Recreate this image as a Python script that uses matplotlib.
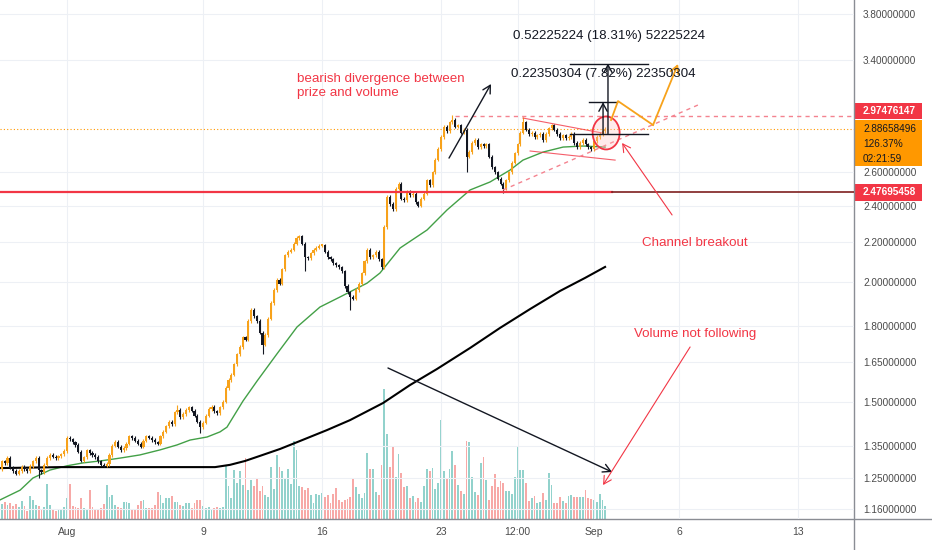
import numpy as np
import matplotlib
matplotlib.use("Agg")
import matplotlib.pyplot as plt
from matplotlib import transforms
from matplotlib.patches import Rectangle, Ellipse
from matplotlib.lines import Line2D
from matplotlib.ticker import FixedLocator, NullLocator, FixedFormatter

# ---------------- data ----------------
first_open = 1.275
closes = [
    1.300, 1.295, 1.310, 1.280, 1.270, 1.262, 1.270, 1.282, 1.275, 1.270,
    1.285, 1.300, 1.310, 1.272, 1.266, 1.290, 1.310, 1.320, 1.315, 1.310,
    1.316, 1.322, 1.332, 1.375, 1.370, 1.360, 1.352, 1.330, 1.302, 1.312,
    1.335, 1.326, 1.320, 1.314, 1.300, 1.290, 1.286, 1.292, 1.320, 1.350,
    1.362, 1.346, 1.336, 1.342, 1.356, 1.380, 1.375, 1.366, 1.356, 1.346,
    1.366, 1.380, 1.376, 1.368, 1.360, 1.356, 1.380, 1.396, 1.414, 1.430,
    1.420, 1.462, 1.470, 1.446, 1.456, 1.470, 1.480, 1.468, 1.450, 1.430,
    1.412, 1.426, 1.450, 1.474, 1.482, 1.466, 1.460, 1.480, 1.500, 1.550,
    1.580, 1.600, 1.640, 1.680, 1.710, 1.750, 1.740, 1.820, 1.870, 1.840,
    1.820, 1.770, 1.720, 1.760, 1.830, 1.900, 1.960, 2.010, 1.990, 2.060,
    2.130, 2.150, 2.160, 2.190, 2.220, 2.230, 2.190, 2.120, 2.115, 2.140,
    2.160, 2.170, 2.180, 2.182, 2.150, 2.120, 2.110, 2.090, 2.080, 2.070,
    2.050, 1.980, 1.950, 1.930, 1.920, 1.960, 1.990, 2.040, 2.100, 2.160,
    2.120, 2.130, 2.150, 2.110, 2.070, 2.280, 2.450, 2.410, 2.380, 2.500,
    2.530, 2.440, 2.430, 2.480, 2.460, 2.470, 2.420, 2.400, 2.440, 2.470,
    2.550, 2.520, 2.600, 2.680, 2.750, 2.830, 2.900, 2.870, 2.930, 2.950,
    2.900, 2.910, 2.860, 2.880, 2.700, 2.730, 2.790, 2.810, 2.760, 2.780,
    2.770, 2.780, 2.700, 2.630, 2.600, 2.560, 2.530, 2.500, 2.550, 2.600,
    2.660, 2.720, 2.780, 2.860, 2.930, 2.880, 2.850, 2.860, 2.830, 2.840,
    2.850, 2.810, 2.850, 2.890, 2.910, 2.880, 2.850, 2.820, 2.840, 2.820,
    2.830, 2.850, 2.790, 2.760, 2.790, 2.810, 2.780, 2.760, 2.750, 2.800,
    2.830, 2.850, 2.870, 2.88658496,
]
volumes = [
    15, 17, 14, 16, 13, 15, 12, 18, 13, 8,
    23, 19, 14, 13, 9, 12, 35, 14, 9, 8,
    10, 9, 12, 21, 35, 13, 12, 11, 21, 11,
    10, 29, 12, 9, 10, 11, 15, 34, 22, 24,
    14, 12, 11, 17, 17, 16, 9, 9, 14, 18,
    19, 11, 11, 11, 14, 27, 24, 16, 21, 21,
    23, 17, 17, 14, 13, 16, 16, 11, 16, 19,
    19, 13, 11, 12, 10, 11, 12, 11, 12, 53,
    33, 21, 49, 36, 48, 34, 61, 29, 39, 33,
    41, 28, 33, 24, 22, 52, 30, 64, 52, 48,
    41, 50, 35, 78, 69, 33, 32, 29, 31, 24,
    16, 25, 24, 26, 22, 24, 16, 25, 31, 19,
    17, 19, 20, 22, 41, 32, 25, 21, 26, 66,
    50, 50, 27, 24, 54, 130, 85, 52, 72, 42,
    65, 46, 32, 33, 21, 23, 17, 21, 17, 33,
    50, 48, 51, 30, 36, 99, 48, 40, 50, 68,
    54, 34, 28, 25, 78, 77, 42, 27, 24, 56,
    62, 39, 19, 33, 45, 32, 38, 36, 28, 28,
    25, 42, 72, 49, 49, 36, 18, 21, 23, 16,
    17, 26, 19, 46, 34, 16, 16, 22, 18, 16,
    23, 24, 22, 22, 22, 22, 29, 21, 20, 19,
    17, 25, 19, 13,
]
# notable wick extremes (candle index -> price)
wick_lows = {13: 1.250, 70: 1.392, 92: 1.680, 107: 2.050, 123: 1.870,
             164: 2.600, 177: 2.475}
wick_highs = {62: 1.487, 159: 2.985, 184: 2.965}

# moving averages (day, price)
ma_fast_days = [-3.94, -2.76, -2.0, -1.0, 0.0, 0.94, 1.94, 3.12, 4.29, 5.47, 6.47,
                7.24, 8.24, 9.0, 9.41, 10.35, 11.18, 12.35, 13.53, 14.88, 16.06,
                17.65, 18.41, 19.59, 21.18, 22.35, 23.71, 24.88, 26.06, 26.82,
                28.0, 29.18, 30.35, 31.65]
ma_fast_vals = [1.185, 1.213, 1.249, 1.273, 1.286, 1.295, 1.301, 1.310, 1.320, 1.336,
                1.352, 1.368, 1.378, 1.395, 1.411, 1.502, 1.576, 1.682, 1.794, 1.882,
                1.928, 1.993, 2.042, 2.168, 2.264, 2.375, 2.492, 2.540, 2.614, 2.677,
                2.729, 2.762, 2.769, 2.762]
ma_slow_days = [-3.94, -0.41, 3.12, 6.65, 8.71, 9.59, 10.47, 11.35, 12.53, 13.71,
                15.29, 16.65, 18.59, 20.18, 21.76, 23.71, 25.47, 27.24, 29.0,
                30.47, 31.65]
ma_slow_vals = [1.279, 1.282, 1.282, 1.282, 1.282, 1.289, 1.301, 1.317, 1.339, 1.365,
                1.401, 1.435, 1.495, 1.561, 1.622, 1.706, 1.790, 1.873, 1.956,
                2.018, 2.072]

price_ticks = [3.8, 3.4, 2.6, 2.4, 2.2, 2.0, 1.8, 1.65, 1.5, 1.35, 1.25, 1.16]
date_ticks = [0, 8, 15, 22, 26.5, 31, 36, 43]
date_labels = ['Aug', '9', '16', '23', '12:00', 'Sep', '6', '13']

resistance = 2.97476147
support = 2.47695458
last_price = 2.88658496
measure_base = 2.8523
measure_big = 0.52225224
measure_small = 0.22350304

# ---------------- style ----------------
UP = '#f7a21b'
DOWN = '#131722'
VOL_UP = '#92d2cc'
VOL_DN = '#f7a9a7'
RED = '#f23645'
PINK = '#f4838f'
GRID = '#edf0f5'
TXT = '#4a4a4a'
FONT = 'Liberation Sans'
plt.rcParams['font.family'] = [FONT, 'DejaVu Sans']
ANN = 9.6

W, H = 932, 550
AX_R, AX_B = 854, 519
fig = plt.figure(figsize=(W / 100, H / 100), dpi=100)
fig.patch.set_facecolor('white')
rect = [0, (H - AX_B) / H, AX_R / W, AX_B / H]
axv = fig.add_axes(rect, zorder=1)
ax = fig.add_axes(rect, zorder=2)
ax.patch.set_visible(False)

N = len(closes)
c = np.array(closes)
o = np.array([first_open] + closes[:-1])
t = (np.arange(N) - 23) / 6.0
up = c >= o
hi = np.maximum(o, c) * 1.004
lo = np.minimum(o, c) * 0.996
for k, v in wick_lows.items():
    lo[k] = v
for k, v in wick_highs.items():
    hi[k] = v

XMIN, XMAX = -3.94, 46.29
YMIN, YMAX = 1.132, 3.930

# volume
axv.bar(t, volumes, width=0.11, color=[VOL_UP if u else VOL_DN for u in up],
        linewidth=0)
axv.set_xlim(XMIN, XMAX)
axv.set_ylim(0, AX_B)
axv.axis('off')

# price axes
ax.set_yscale('log')
ax.set_xlim(XMIN, XMAX)
ax.set_ylim(YMIN, YMAX)
ax.autoscale(False)

ax.vlines(t, lo, hi, colors=[UP if u else DOWN for u in up], lw=0.8, zorder=3)
body_b = np.minimum(o, c)
body_h = np.maximum(np.abs(c - o), c * 0.003)
ax.bar(t, body_h, bottom=body_b, width=0.12,
       color=[UP if u else DOWN for u in up], linewidth=0, zorder=4)

ax.plot(ma_fast_days, ma_fast_vals, color='#43a047', lw=1.0, zorder=2)
ax.plot(ma_slow_days, ma_slow_vals, color='#000000', lw=1.5, zorder=2)

# grid and ticks
ax.yaxis.set_major_locator(FixedLocator(price_ticks))
ax.yaxis.set_major_formatter(FixedFormatter([f"{v:.8f}" for v in price_ticks]))
ax.yaxis.set_minor_locator(NullLocator())
ax.yaxis.tick_right()
ax.set_xticks(date_ticks)
ax.set_xticklabels(date_labels)
ax.tick_params(axis='y', length=0, pad=6.5, labelsize=7.2, labelcolor=TXT)
ax.tick_params(axis='x', length=0, pad=6.0, labelsize=7.5, labelcolor=TXT)
ax.grid(True, color=GRID, lw=0.8)
ax.set_axisbelow(True)
for s in ax.spines.values():
    s.set_visible(False)

# horizontal levels
ax.axhline(last_price, color='#ff9800', lw=0.8, ls=(0, (1, 2)), zorder=2)
ax.plot([22.82, XMAX], [resistance, resistance], color=PINK, lw=1.0,
        ls=(0, (3, 3)), zorder=2)
ax.plot([XMIN, 32.06], [support, support], color=RED, lw=1.6, zorder=5)
ax.plot([32.06, XMAX], [support, support], color='#7e1f1f', lw=1.2, zorder=5)

# triangle / channel lines
ax.plot([26.82, 31.47], [2.961, 2.857], color=RED, lw=0.8, alpha=0.8, zorder=5)
ax.plot([27.24, 32.24], [2.736, 2.677], color=RED, lw=0.8, alpha=0.8, zorder=5)
ax.plot([25.65, 37.24], [2.492, 3.062], color=PINK, lw=1.0, ls=(0, (3, 3)), zorder=5)

# breakout circle
cx, cy = 31.71, 2.857
etr = fig.dpi_scale_trans + transforms.ScaledTranslation(cx, cy, ax.transData)
ax.add_patch(Ellipse((0, 0), 0.27, 0.33, transform=etr, facecolor=(1, 0.75, 0.75, 0.3),
                     edgecolor=RED, lw=1.3, zorder=6))

def arrow(x0, y0, x1, y1, color, lw=1.0):
    ax.annotate('', xy=(x1, y1), xytext=(x0, y0),
                arrowprops=dict(arrowstyle='->,head_length=0.55,head_width=0.3',
                                color=color, lw=lw, shrinkA=0, shrinkB=0),
                zorder=7)

# measuring tool
mt = measure_base + measure_big
ms = measure_base + measure_small
ax.plot([29.59, 34.18], [measure_base, measure_base], color='#131722', lw=1.0, zorder=7)
ax.plot([29.59, 34.18], [mt, mt], color='#131722', lw=1.0, zorder=7)
ax.plot([30.71, 32.35], [ms, ms], color='#131722', lw=1.0, zorder=7)
arrow(31.82, measure_base, 31.82, mt, '#131722')
arrow(31.53, measure_base, 31.53, ms, '#131722')
ax.text(31.88, 3.605, f"{measure_big:.8f} (18.31%) 52225224", ha='center',
        va='center', fontsize=ANN, color='#131722', zorder=8)
ax.text(31.53, 3.291, f"{measure_small:.8f} (7.82%) 22350304", ha='center',
        va='center', fontsize=ANN, color='#131722', zorder=8)

# projected path
px_days = [32.0, 32.41, 34.47, 35.94]
px_vals = [2.947, 3.084, 2.912, 3.371]
ax.plot(px_days[:-1], px_vals[:-1], color='#f7a21b', lw=1.3, zorder=7)
ax.annotate('', xy=(px_days[-1], px_vals[-1]), xytext=(px_days[-2], px_vals[-2]),
            arrowprops=dict(arrowstyle='->,head_length=0.55,head_width=0.3',
                            color='#f7a21b', lw=1.3, shrinkA=0, shrinkB=0), zorder=7)

# annotations
arrow(22.47, 2.690, 24.94, 3.213, '#131722')
ax.text(13.53, 3.30, "bearish divergence between\nprize and volume", ha='left',
        va='top', fontsize=ANN, color=RED, linespacing=1.2, zorder=8)
arrow(18.88, 1.626, 32.06, 1.267, '#131722')
arrow(36.65, 1.710, 31.53, 1.228, RED, lw=0.8)
ax.text(36.94, 1.764, "Volume not following", ha='center', va='center',
        fontsize=ANN, color=RED, zorder=8)
arrow(35.59, 2.347, 32.65, 2.789, RED, lw=0.8)
ax.text(36.94, 2.194, "Channel breakout", ha='center', va='center',
        fontsize=ANN, color=RED, zorder=8)

# frame lines
PX = transforms.IdentityTransform()
fig.add_artist(Line2D([0, W], [H - AX_B, H - AX_B], color='#8a8d94', lw=1.0, transform=PX))
fig.add_artist(Line2D([AX_R, AX_R], [0, H], color='#8a8d94', lw=1.0, transform=PX))

# price label boxes on the right scale
def ydisp(p):
    return ax.transData.transform((0, p))[1]

y_res = ydisp(resistance) + 5
fig.add_artist(Rectangle((AX_R + 1, y_res - 8), 67, 16, facecolor=RED,
                         edgecolor='none', transform=PX))
fig.text(863, y_res, f"{resistance:.8f}", transform=PX, ha='left', va='center',
         fontsize=7.2, color='white', fontweight='bold')

y_last = ydisp(last_price)
fig.add_artist(Rectangle((AX_R + 1, y_last - 37.3), 67, 46, facecolor='#ff9800',
                         edgecolor='none', transform=PX))
for k, s in enumerate([f"{last_price:.8f}", "126.37%", "02:21:59"]):
    fig.text(863, y_last - 15 * k, s, transform=PX, ha='left', va='center',
             fontsize=7.2, color='#131722')

y_sup = ydisp(support)
fig.add_artist(Rectangle((AX_R + 1, y_sup - 8.5), 67, 17, facecolor=RED,
                         edgecolor='none', transform=PX))
fig.text(863, y_sup, f"{support:.8f}", transform=PX, ha='left', va='center',
         fontsize=7.2, color='white', fontweight='bold')

fig.savefig('out.png', dpi=100, facecolor='white')
